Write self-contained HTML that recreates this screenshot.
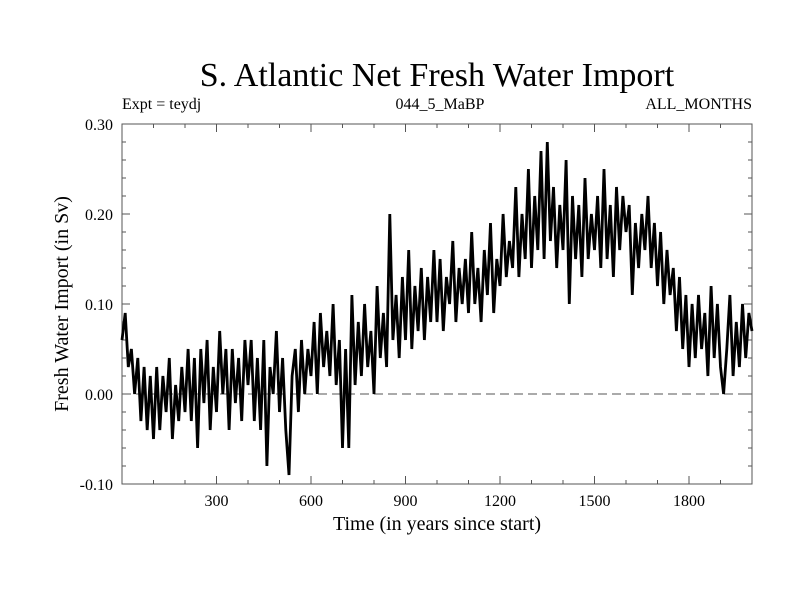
<!DOCTYPE html>
<html><head><meta charset="utf-8"><style>
body{margin:0;background:#fff}
svg{display:block;font-family:"Liberation Serif",serif}
</style></head><body>
<svg id="chart" width="800" height="600">
<rect width="800" height="600" fill="#fff"/>
<text x="437" y="86" font-size="34" text-anchor="middle">S. Atlantic Net Fresh Water Import</text>
<text x="122" y="109" font-size="16">Expt = teydj</text>
<text x="440" y="109" font-size="16" text-anchor="middle">044_5_MaBP</text>
<text x="752" y="109" font-size="16" text-anchor="end">ALL_MONTHS</text>
<text transform="translate(68,304) rotate(-90)" font-size="20" text-anchor="middle">Fresh Water Import (in Sv)</text>
<text x="437" y="530" font-size="20" text-anchor="middle">Time (in years since start)</text>
<g id="axes"></g>
<g id="series"></g>
</svg>
<script>
const years0=0, yearStep=10;
const values=[
0.06,0.09,0.03,0.05,0.00,0.04,-0.03,0.03,-0.04,0.02,
-0.05,0.03,-0.04,0.02,-0.02,0.04,-0.05,0.01,-0.03,0.03,
-0.02,0.05,-0.03,0.04,-0.06,0.05,-0.01,0.06,-0.04,0.03,
-0.02,0.07,0.00,0.05,-0.04,0.05,-0.01,0.04,-0.03,0.06,
0.01,0.06,-0.03,0.04,-0.04,0.06,-0.08,0.03,0.00,0.07,
-0.02,0.04,-0.04,-0.09,0.02,0.05,-0.02,0.06,0.00,0.05,
0.02,0.08,0.00,0.09,0.03,0.07,0.02,0.10,0.01,0.06,
-0.06,0.05,-0.06,0.11,0.01,0.08,0.02,0.10,0.03,0.07,
0.00,0.12,0.04,0.09,0.03,0.20,0.06,0.11,0.04,0.13,
0.06,0.16,0.05,0.12,0.07,0.14,0.06,0.13,0.08,0.16,
0.08,0.15,0.07,0.13,0.10,0.17,0.08,0.14,0.10,0.15,
0.09,0.18,0.10,0.14,0.08,0.16,0.11,0.19,0.09,0.15,
0.12,0.20,0.13,0.17,0.14,0.23,0.13,0.20,0.15,0.25,
0.14,0.22,0.16,0.27,0.15,0.28,0.17,0.23,0.14,0.21,
0.16,0.26,0.10,0.22,0.15,0.21,0.13,0.24,0.15,0.20,
0.16,0.22,0.14,0.25,0.15,0.21,0.13,0.23,0.16,0.22,
0.18,0.21,0.11,0.19,0.14,0.20,0.16,0.22,0.14,0.19,
0.12,0.18,0.10,0.16,0.11,0.14,0.07,0.13,0.05,0.11,
0.03,0.10,0.04,0.11,0.05,0.09,0.02,0.12,0.04,0.10,
0.03,0.00,0.05,0.11,0.02,0.08,0.03,0.10,0.04,0.09,
0.07];
const xTicks=[300,600,900,1200,1500,1800];
const xTickLabels=["300","600","900","1200","1500","1800"];
const yTicks=[-0.10,0.00,0.10,0.20,0.30];
const yTickLabels=["-0.10","0.00","0.10","0.20","0.30"];
const X0=122,X1=752,Y0=484,Y1=124;
const xMin=0,xMax=2000,yMin=-0.10,yMax=0.30;
const sx=v=>X0+(v-xMin)/(xMax-xMin)*(X1-X0);
const sy=v=>Y0-(v-yMin)/(yMax-yMin)*(Y0-Y1);
const NS="http://www.w3.org/2000/svg";
const axes=document.getElementById('axes'), series=document.getElementById('series');
function mk(tag,attrs,parent){const e=document.createElementNS(NS,tag);for(const k in attrs)e.setAttribute(k,attrs[k]);parent.appendChild(e);return e;}
const z=mk('line',{x1:X0,x2:X1,y1:sy(0),y2:sy(0),stroke:'#555','stroke-width':1,'stroke-dasharray':'9,5'},axes);


const fr=mk('rect',{x:X0,y:Y1,width:X1-X0,height:Y0-Y1,fill:'none',stroke:'#555','stroke-width':1},axes);


for(let t=100;t<xMax;t+=100){const major=t%300===0;const L=major?8:4;
 mk('line',{x1:sx(t),x2:sx(t),y1:Y0,y2:Y0-L,stroke:'#555'},axes);
 mk('line',{x1:sx(t),x2:sx(t),y1:Y1,y2:Y1+L,stroke:'#555'},axes);}
for(let v=-0.08;v<0.295;v+=0.02){const major=Math.abs(Math.round(v*100)%10)===0;const L=major?8:4;
 mk('line',{x1:X0,x2:X0+L,y1:sy(v),y2:sy(v),stroke:'#555'},axes);
 mk('line',{x1:X1,x2:X1-L,y1:sy(v),y2:sy(v),stroke:'#555'},axes);}
xTicks.forEach((t,i)=>{const e=mk('text',{x:sx(t),y:Y0+22,'font-size':16,'text-anchor':'middle'},axes);e.textContent=xTickLabels[i];
 
 });
yTicks.forEach((t,i)=>{const e=mk('text',{x:X0-9,y:sy(t)+6,'font-size':16,'text-anchor':'end'},axes);e.textContent=yTickLabels[i];
 
 });
const d=values.map((v,i)=>(i?'L':'M')+sx(years0+i*yearStep).toFixed(1)+','+sy(v).toFixed(1)).join('');
const p=mk('path',{d:d,fill:'none',stroke:'#000','stroke-width':2.8,'stroke-linejoin':'miter'},series);


</script>
</body></html>
